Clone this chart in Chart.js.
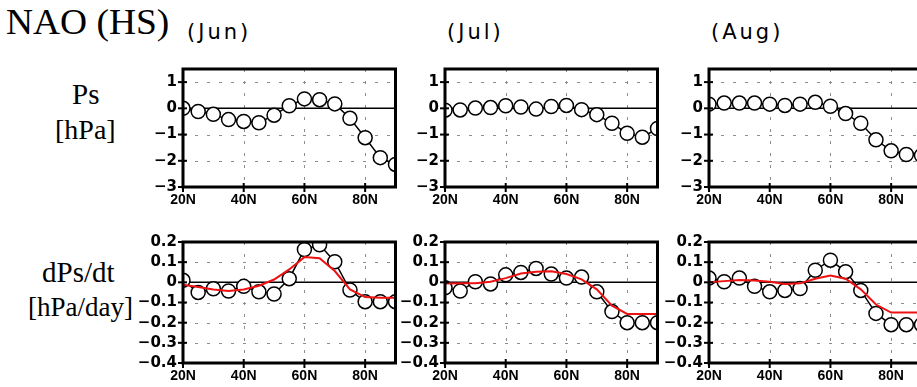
<!DOCTYPE html>
<html>
<head>
<meta charset="utf-8">
<script src="https://cdn.jsdelivr.net/npm/chart.js@4/dist/chart.umd.min.js"></script>
<style>
  html, body { margin: 0; padding: 0; background: #fff; overflow: hidden; }
  #wrap { position: relative; width: 917px; height: 387px; overflow: hidden; background: #fff; }
  #wrap canvas { position: absolute; }
  .lbl { position: absolute; font-family: "Liberation Serif", "Times New Roman", serif; color: #000; white-space: nowrap; }
  .mon { position: absolute; font-family: "DejaVu Sans", sans-serif; font-size: 21px; letter-spacing: 3px; color: #000; white-space: nowrap; }
</style>
</head>
<body>
<div id="wrap">
  <div class="lbl" style="left:6px; top:3px; font-size:35px; transform: scaleX(1.07); transform-origin: left top;">NAO (HS)</div>
  <div class="mon" style="left:187px; top:20px;">(Jun)</div>
  <div class="mon" style="left:447px; top:20px;">(Jul)</div>
  <div class="mon" style="left:711px; top:20px;">(Aug)</div>

  <div class="lbl" style="left:72px; top:78px; font-size:29px;">Ps</div>
  <div class="lbl" style="left:55px; top:114px; font-size:28px;">[hPa]</div>
  <div class="lbl" style="left:42px; top:256px; font-size:29px;">dPs/dt</div>
  <div class="lbl" style="left:28px; top:292px; font-size:27px;">[hPa/day]</div>

  <canvas id="c1"></canvas>
  <canvas id="c2"></canvas>
  <canvas id="c3"></canvas>
  <canvas id="c4"></canvas>
  <canvas id="c5"></canvas>
  <canvas id="c6"></canvas>
</div>
<script>
// latitudes (every 5 degrees)
const lats = [20, 25, 30, 35, 40, 45, 50, 55, 60, 65, 70, 75, 80, 85, 90];

// surface pressure anomaly [hPa]
const psJun = [0.0, -0.12, -0.23, -0.43, -0.5, -0.55, -0.26, 0.1, 0.36, 0.33, 0.17, -0.38, -1.12, -1.88, -2.14];
const psJul = [-0.07, -0.06, 0.01, 0.03, 0.1, 0.05, -0.03, 0.07, 0.11, -0.05, -0.24, -0.57, -0.95, -1.1, -0.77];
const psAug = [0.16, 0.2, 0.2, 0.2, 0.16, 0.11, 0.16, 0.23, 0.08, -0.2, -0.57, -1.2, -1.62, -1.76, -1.8];

// tendency [hPa/day] (circles) and red curve
const dpsJun = [0.01, -0.05, -0.032, -0.043, -0.02, -0.047, -0.058, 0.018, 0.163, 0.186, 0.102, -0.038, -0.096, -0.096, -0.096];
const redJun = [-0.012, -0.023, -0.035, -0.043, -0.035, -0.017, 0.014, 0.064, 0.125, 0.12, 0.056, -0.035, -0.073, -0.076, -0.076];
const dpsJul = [-0.027, -0.043, 0.003, -0.008, 0.037, 0.049, 0.069, 0.041, 0.021, 0.026, -0.047, -0.145, -0.2, -0.2, -0.2];
const redJul = [-0.006, -0.005, -0.005, 0.003, 0.021, 0.044, 0.053, 0.055, 0.041, 0.015, -0.035, -0.116, -0.157, -0.157, -0.157];
const dpsAug = [0.021, 0.003, 0.021, -0.02, -0.047, -0.04, -0.031, 0.06, 0.11, 0.053, -0.04, -0.154, -0.21, -0.21, -0.21];
const redAug = [0, 0.006, 0.012, 0.009, 0.003, -0.008, -0.005, 0.018, 0.034, 0.018, -0.035, -0.11, -0.15, -0.15, -0.15];

// axis ticks
const xTicks = [20, 40, 60, 80];
const xLabels = ['20N', '40N', '60N', '80N'];
const yTicksPs = [-3, -2, -1, 0, 1];
const yTicksDps = [-0.4, -0.3, -0.2, -0.1, 0, 0.1, 0.2];

const padL = 52, padR = 4, padT = 4, padB = 26;

// frame, dashed grid, zero line, cross ticks
const framePlugin = {
    id: 'frame',
    beforeDatasetsDraw(chart) {
        const { ctx, chartArea: a, scales: { x, y } } = chart;
        ctx.save();
        ctx.strokeStyle = '#8c8c8c';
        ctx.lineWidth = 1;
        ctx.setLineDash([3, 9]);
        x.ticks.forEach(t => {
            if (t.value === x.min) return;
            const px = Math.round(x.getPixelForValue(t.value)) + 0.5;
            ctx.beginPath(); ctx.moveTo(px, a.top); ctx.lineTo(px, a.bottom); ctx.stroke();
        });
        y.ticks.forEach(t => {
            if (t.value === y.min || t.value === 0) return;
            const py = Math.round(y.getPixelForValue(t.value)) + 0.5;
            ctx.beginPath(); ctx.moveTo(a.left, py); ctx.lineTo(a.right, py); ctx.stroke();
        });
        ctx.setLineDash([]);
        ctx.strokeStyle = '#000';
        ctx.lineWidth = 1.5;
        const z = y.getPixelForValue(0);
        ctx.beginPath(); ctx.moveTo(a.left, z); ctx.lineTo(a.right, z); ctx.stroke();
        ctx.restore();
    },
    afterDatasetsDraw(chart) {
        const { ctx, chartArea: a, scales: { x, y } } = chart;
        ctx.save();
        ctx.strokeStyle = '#000';
        ctx.lineWidth = 3;
        ctx.strokeRect(a.left, a.top, a.right - a.left, a.bottom - a.top);
        ctx.lineWidth = 2;
        y.ticks.forEach(t => {
            const py = y.getPixelForValue(t.value);
            ctx.beginPath(); ctx.moveTo(a.left - 5, py); ctx.lineTo(a.left + 4, py); ctx.stroke();
        });
        x.ticks.forEach(t => {
            const px = x.getPixelForValue(t.value);
            ctx.beginPath(); ctx.moveTo(px, a.bottom - 4); ctx.lineTo(px, a.bottom + 5); ctx.stroke();
        });
        ctx.restore();
    }
};

function fmtY(v) {
    const s = String(Math.round(Math.abs(v) * 10) / 10);
    return v < 0 ? '\u2212' + s : s;
}

function makePanel(id, left, top, width, height, yMin, yMax, yTicks, circles, red) {
    const cv = document.getElementById(id);
    cv.width = width + padL + padR;
    cv.height = height + padT + padB;
    cv.style.left = (left - padL) + 'px';
    cv.style.top = (top - padT) + 'px';

    const datasets = [];
    if (red) {
        datasets.push({
            data: lats.map((la, i) => ({ x: la, y: red[i] })),
            borderColor: '#ee1111',
            borderWidth: 2,
            pointRadius: 0,
            tension: 0,
            clip: 0,
            order: 0
        });
    }
    datasets.push({
        data: lats.map((la, i) => ({ x: la, y: circles[i] })),
        borderColor: '#000',
        borderWidth: 1.5,
        pointRadius: 7,
        pointBackgroundColor: '#fff',
        pointBorderColor: '#000',
        pointBorderWidth: 1.5,
        tension: 0,
        clip: 0,
        order: 1
    });

    return new Chart(cv, {
        type: 'line',
        data: { datasets },
        options: {
            responsive: false,
            animation: false,
            devicePixelRatio: 1,
            layout: { padding: { top: padT, right: padR, left: 0, bottom: 0 } },
            plugins: { legend: { display: false }, tooltip: { enabled: false } },
            scales: {
                x: {
                    type: 'linear',
                    min: 20,
                    max: 90,
                    grid: { display: false, drawTicks: false },
                    border: { display: false },
                    afterBuildTicks: s => { s.ticks = xTicks.map(v => ({ value: v })); },
                    afterFit: s => { s.height = padB; },
                    ticks: {
                        autoSkip: false,
                        maxRotation: 0,
                        padding: 5,
                        color: '#000',
                        font: { family: 'Liberation Sans', size: 14, weight: 'bold' },
                        callback: v => xLabels[xTicks.indexOf(v)]
                    }
                },
                y: {
                    type: 'linear',
                    min: yMin,
                    max: yMax,
                    grid: { display: false, drawTicks: false },
                    border: { display: false },
                    afterBuildTicks: s => { s.ticks = yTicks.map(v => ({ value: v })); },
                    afterFit: s => { s.width = padL; },
                    ticks: {
                        autoSkip: false,
                        padding: 6,
                        color: '#000',
                        font: { family: 'DejaVu Sans', size: 15, weight: 'bold' },
                        callback: v => fmtY(v)
                    }
                }
            }
        },
        plugins: [framePlugin]
    });
}

makePanel('c1', 183, 58, 217, 129, -3, 1.5, yTicksPs, psJun, null);
makePanel('c2', 445, 58, 217, 129, -3, 1.5, yTicksPs, psJul, null);
makePanel('c3', 709, 58, 217, 129, -3, 1.5, yTicksPs, psAug, null);
makePanel('c4', 183, 231, 217, 132, -0.4, 0.2, yTicksDps, dpsJun, redJun);
makePanel('c5', 445, 231, 217, 132, -0.4, 0.2, yTicksDps, dpsJul, redJul);
makePanel('c6', 709, 231, 217, 132, -0.4, 0.2, yTicksDps, dpsAug, redAug);
</script>
</body>
</html>
